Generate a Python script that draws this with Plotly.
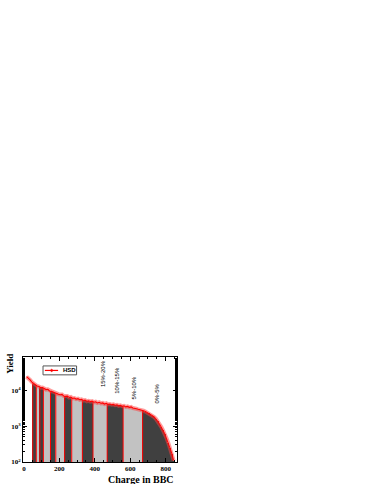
import numpy as np
import plotly.graph_objects as go

# Histogram of BBC charge (bin centres, 10-unit bins) and yield per bin
charge = [15, 25, 35, 45, 55, 65, 75, 85, 95, 105, 115, 125, 135, 145, 155, 165, 175, 185, 195,
          205, 215, 225, 235, 245, 255, 265, 275, 285, 295, 305, 315, 325, 335, 345, 355, 365,
          375, 385, 395, 405, 415, 425, 435, 445, 455, 465, 475, 485, 495, 505, 515, 525, 535,
          545, 555, 565, 575, 585, 595, 605, 615, 625, 635, 645, 655, 665, 675, 685, 695, 705,
          715, 725, 735, 745, 755, 765, 775, 785, 795, 805, 815, 825, 835, 845]
yield_hsd = [24000, 22000, 19500, 17000, 15500, 14500, 13200, 12800, 11800, 12000, 11000,
             10500, 10700, 9600, 9400, 9100, 8400, 8200, 7800, 7500, 7700, 6900, 6800, 6900,
             6300, 6500, 5950, 6100, 5700, 5850, 5450, 5600, 5200, 5350, 4950, 5100, 4850,
             5000, 4650, 4800, 4450, 4650, 4350, 4450, 4150, 4350, 4050, 4150, 3950, 4050,
             3850, 3950, 3700, 3800, 3600, 3700, 3450, 3550, 3350, 3450, 3200, 3200, 3050,
             2950, 2900, 2750, 2700, 2550, 2400, 2300, 2150, 1950, 1800, 1600, 1370, 1150,
             960, 760, 610, 460, 340, 240, 170, 110]

# Centrality class boundaries in BBC charge (5% classes, from peripheral to central)
cut_edges = [50, 70, 90, 110, 150, 180, 230, 270, 330, 390, 470, 560, 670, 850]
class_labels = ["0%-5%", "5%-10%", "10%-15%", "15%-20%"]
label_charge = [751, 623, 528, 446]
label_logy = [3.91, 4.06, 4.28, 4.48]

x_ticks = [0, 200, 400, 600, 800]
y_ticks = [100, 1000, 10000]
y_ticktext = ["10<sup>2</sup>", "10<sup>3</sup>", "10<sup>4</sup>"]

DARK = "#404040"
LIGHT = "#c2c2c2"

xc = np.array(charge, dtype=float)
yc = np.array(yield_hsd, dtype=float)

# colour each bin according to the centrality class it falls in
colors = []
for x in xc:
    idx = None
    for i in range(len(cut_edges) - 1):
        if cut_edges[i] <= x < cut_edges[i + 1]:
            idx = i
    if idx is None:
        colors.append("rgba(0,0,0,0)")
    else:
        n_from_top = (len(cut_edges) - 2) - idx
        colors.append(DARK if n_from_top % 2 == 0 else LIGHT)

fig = go.Figure()

fig.add_trace(go.Bar(x=xc, y=yc, width=10, marker=dict(color=colors, line=dict(width=0)),
                     showlegend=False, hoverinfo="skip"))

# red class separators
vx, vy = [], []
for e in cut_edges[:-1]:
    top = float(np.interp(e, xc, yc))
    vx += [e, e, None]
    vy += [1, top, None]
fig.add_trace(go.Scatter(x=vx, y=vy, mode="lines", line=dict(color="red", width=1),
                         showlegend=False, hoverinfo="skip"))

# HSD curve: soft band + line
fig.add_trace(go.Scatter(x=xc, y=yc, mode="lines", line=dict(color="rgba(255,60,60,0.5)", width=4),
                         showlegend=False, hoverinfo="skip"))
fig.add_trace(go.Scatter(x=xc, y=yc, mode="lines", name="HSD",
                         line=dict(color="red", width=1.1), showlegend=False))

for lab, lx, ly in zip(class_labels, label_charge, label_logy):
    fig.add_annotation(x=lx, y=ly, xref="x", yref="y", text=lab, showarrow=False,
                       textangle=-90, font=dict(family="Liberation Sans", size=6, color="black"))

# legend box (drawn by hand to match the compact frame)
fig.add_shape(type="rect", xref="paper", yref="paper", x0=0.130, x1=0.348, y0=0.830, y1=0.915,
              line=dict(color="#555555", width=1), fillcolor="white")
fig.add_shape(type="line", xref="paper", yref="paper", x0=0.142, x1=0.228, y0=0.872, y1=0.872,
              line=dict(color="red", width=1.2))
fig.add_shape(type="circle", xref="paper", yref="paper", x0=0.180, x1=0.192, y0=0.860, y1=0.884,
              line=dict(color="red", width=0.5), fillcolor="red")
fig.add_annotation(x=0.248, y=0.872, xref="paper", yref="paper", text="<b>HSD</b>", showarrow=False,
                   xanchor="left", yanchor="middle",
                   font=dict(family="Liberation Sans", size=6, color="black"))

fig.add_annotation(x=-0.085, y=0.934, xref="paper", yref="paper", text="<b>Yield</b>", showarrow=False,
                   textangle=-90, xanchor="center", yanchor="middle",
                   font=dict(family="Liberation Serif", size=9, color="black"))
fig.add_annotation(x=0.995, y=-0.095, xref="paper", yref="paper", text="<b>Charge in BBC</b>",
                   showarrow=False, xanchor="right", yanchor="top",
                   font=dict(family="Liberation Serif", size=10, color="black"))

axis_common = dict(showline=True, linecolor="black", linewidth=1, mirror="ticks",
                   ticks="inside", tickcolor="black", showgrid=False, zeroline=False,
                   automargin=False)

fig.update_xaxes(range=[-5, 864], tickvals=x_ticks,
                 ticktext=["<b>%d</b>" % v for v in x_ticks], ticklen=4,
                 tickfont=dict(family="Liberation Serif", size=7, color="black"),
                 minor=dict(ticks="inside", ticklen=2, dtick=50, tickcolor="black"),
                 **axis_common)
fig.update_yaxes(type="log", range=[2, 4.93], tickvals=y_ticks,
                 ticktext=["<b>%s</b>" % t for t in y_ticktext], ticklen=4,
                 tickfont=dict(family="Liberation Serif", size=7, color="black"),
                 minor=dict(ticks="inside", ticklen=2, tickcolor="black", showgrid=False),
                 **axis_common)

fig.update_layout(
    width=374, height=484,
    margin=dict(l=23, r=197, t=357, b=22, autoexpand=False),
    paper_bgcolor="white", plot_bgcolor="white",
    bargap=0, barmode="overlay",
    showlegend=False,
)

fig.write_html("out.html", config={"displayModeBar": False},
               post_script="document.body.style.margin='0px';")
